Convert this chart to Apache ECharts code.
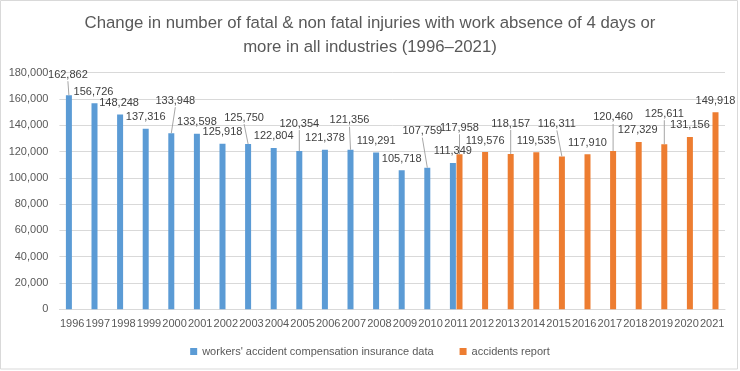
<!DOCTYPE html>
<html>
<head>
<meta charset="utf-8">
<script src="https://cdn.jsdelivr.net/npm/echarts@6/dist/echarts.min.js"></script>
<style>
html,body{margin:0;padding:0;background:#fff;}
#c{width:740px;height:371px;}
</style>
</head>
<body>
<div id="c"></div>
<script>
const years = ['1996','1997','1998','1999','2000','2001','2002','2003','2004','2005','2006','2007','2008','2009','2010','2011','2012','2013','2014','2015','2016','2017','2018','2019','2020','2021'];
const insuranceYears = ['1996','1997','1998','1999','2000','2001','2002','2003','2004','2005','2006','2007','2008','2009','2010','2011'];
const insuranceValues = [162862,156726,148248,137316,133948,133598,125918,125750,122804,120354,121378,121356,119291,105718,107759,111349];
const reportYears = ['2011','2012','2013','2014','2015','2016','2017','2018','2019','2020','2021'];
const reportValues = [117958,119576,118157,119535,116311,117910,120460,127329,125611,131156,149918];
const yTicks = [0,20000,40000,60000,80000,100000,120000,140000,160000,180000];
const seriesNames = ["workers' accident compensation insurance data", 'accidents report'];
const titleText = 'Change in number of fatal & non fatal injuries with work absence of 4 days or\nmore in all industries (1996\u20132021)';

// label placement (pixel shifts of the data labels, [dx, lift])
const insuranceLabelShift = [[-1,9],[-1,0],[-1,0],[0,0],[4,21],[0,0],[0,0],[-4,15],[0,0],[0,16],[0,0],[-1,18],[0,0],[0,0],[-5,25],[0,0]];
const reportLabelShift = [[0,15],[0,0],[0,19],[0,0],[-5,21],[0,0],[0,22],[-1,0],[0,19],[0,0],[0,0]];

const FONT = '"Liberation Sans", Arial, sans-serif';
const BAR_W = 6, HALF_STEP = 3.3, LABEL_DIST = 6, LABEL_H = 13;

function buildData(ys, vals) {
  return years.map(y => {
    const i = ys.indexOf(y);
    return i < 0 ? null : vals[i];
  });
}
function shiftLookup(ys, shifts) {
  return function (dataIndex) {
    const i = ys.indexOf(years[dataIndex]);
    return i < 0 ? [0, 0] : shifts[i];
  };
}
const shiftFns = [shiftLookup(insuranceYears, insuranceLabelShift), shiftLookup(reportYears, reportLabelShift)];

// leader lines for the lifted labels: [categoryIndex, value, dx, lift, side]
const leaderData = [];
insuranceYears.forEach((y, i) => { if (insuranceLabelShift[i][1] > 0) leaderData.push([years.indexOf(y), insuranceValues[i], insuranceLabelShift[i][0], insuranceLabelShift[i][1], -1]); });
reportYears.forEach((y, i) => { if (reportLabelShift[i][1] > 0) leaderData.push([years.indexOf(y), reportValues[i], reportLabelShift[i][0], reportLabelShift[i][1], 1]); });

const chart = echarts.init(document.getElementById('c'), null, { renderer: 'canvas' });
const labelCommon = {
  show: true, position: 'top', distance: LABEL_DIST,
  color: '#404040', fontSize: 11, fontFamily: FONT,
  formatter: p => p.value.toLocaleString('en-US')
};

chart.setOption({
  animation: false,
  textStyle: { fontFamily: FONT },
  graphic: [{ type: 'rect', shape: { x: 0.5, y: 0.5, width: 737, height: 368.5 }, style: { fill: 'none', stroke: '#d9d9d9', lineWidth: 1 }, silent: true, z: -1 }],
  title: {
    text: titleText, left: 'center', top: 6,
    textStyle: { fontSize: 16.8, fontWeight: 'normal', color: '#595959', lineHeight: 24, fontFamily: FONT }
  },
  legend: {
    data: seriesNames, top: 341, left: 'center', icon: 'rect', itemWidth: 7, itemHeight: 7, itemGap: 26,
    textStyle: { color: '#595959', fontSize: 11, fontFamily: FONT }
  },
  grid: { left: 59.4, right: 15, top: 72.7, bottom: 61.7, containLabel: false },
  xAxis: {
    type: 'category', data: years,
    axisLine: { lineStyle: { color: '#d9d9d9' } },
    axisTick: { show: false },
    axisLabel: { interval: 0, color: '#595959', fontSize: 11, margin: 9, fontFamily: FONT }
  },
  yAxis: {
    type: 'value', min: yTicks[0], max: yTicks[yTicks.length - 1], interval: yTicks[1] - yTicks[0],
    axisLine: { show: false }, axisTick: { show: false },
    splitLine: { lineStyle: { color: '#d9d9d9' } },
    axisLabel: { color: '#595959', fontSize: 11, margin: 11, fontFamily: FONT, formatter: v => v.toLocaleString('en-US') }
  },
  series: [
    {
      name: seriesNames[0], type: 'bar', barWidth: BAR_W, barGap: '10%',
      itemStyle: { color: '#5b9bd5' },
      data: buildData(insuranceYears, insuranceValues),
      label: labelCommon,
      labelLayout: p => { const s = shiftFns[0](p.dataIndex); return { dx: s[0], dy: -s[1] }; }
    },
    {
      name: seriesNames[1], type: 'bar', barWidth: BAR_W, barGap: '10%',
      itemStyle: { color: '#ed7d31' },
      data: buildData(reportYears, reportValues),
      label: labelCommon,
      labelLayout: p => { const s = shiftFns[1](p.dataIndex); return { dx: s[0], dy: -s[1] }; }
    },
    {
      type: 'custom', silent: true, z: 5,
      data: leaderData,
      renderItem: (params, api) => {
        const pt = api.coord([api.value(0), api.value(1)]);
        const x = pt[0] + api.value(4) * HALF_STEP;
        const top = pt[1];
        const y1 = top - LABEL_DIST - api.value(3) + 1;
        return {
          type: 'line',
          shape: { x1: x + api.value(2), y1: y1, x2: x, y2: top },
          style: { stroke: '#a6a6a6', lineWidth: 1 }
        };
      }
    }
  ]
});
</script>
</body>
</html>
